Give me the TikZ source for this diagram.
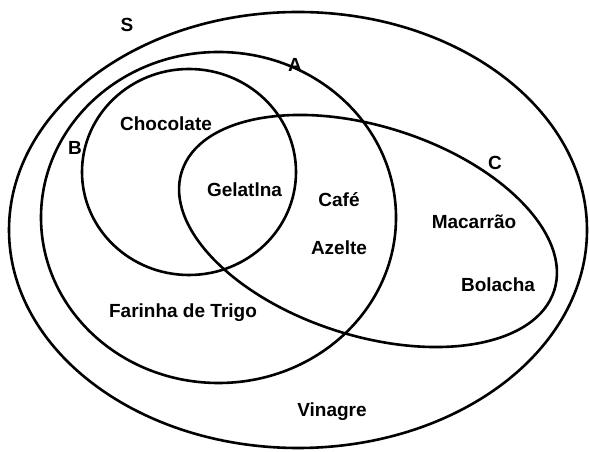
\documentclass[tikz,border=0pt]{standalone}
\usepackage{fontspec}
\setmainfont{Liberation Sans}
\begin{document}
\begin{tikzpicture}[x=1pt,y=1pt,
  setline/.style={draw=black,line width=2.6pt},
  lbl/.style={font=\fontsize{19}{22}\selectfont\bfseries,inner sep=0pt,text=black}]
\useasboundingbox (0,0) rectangle (589,452);
% y-up coordinates: Y = 452 - y_pixel
\draw[setline] (298,222) ellipse [x radius=289, y radius=218];
\draw[setline] (218.5,234.5) ellipse [x radius=177.5, y radius=165.5];
\draw[setline] (189,280) ellipse [x radius=107, y radius=103];
\draw[setline,rotate around={-17.7:(368,221)}] (368,221) ellipse [x radius=195.5, y radius=104.6];
\node[lbl] (S) at (127,427) {S};
\node[lbl] (A) at (295,387) {A};
\node[lbl] (B) at (75,304) {B};
\node[lbl] (C) at (495,289) {C};
\node[lbl] (choc) at (166,328) {Chocolate};
\node[lbl] (gel) at (244.5,262) {Gelatlna};
\node[lbl] (cafe) at (339,252) {Café};
\node[lbl] (az) at (339,204) {Azelte};
\node[lbl] (mac) at (474,230) {Macarrão};
\node[lbl] (bol) at (498,167) {Bolacha};
\node[lbl] (far) at (183,139) {Farinha de Trigo};
\node[lbl] (vin) at (332,40) {Vinagre};
\end{tikzpicture}
\end{document}
